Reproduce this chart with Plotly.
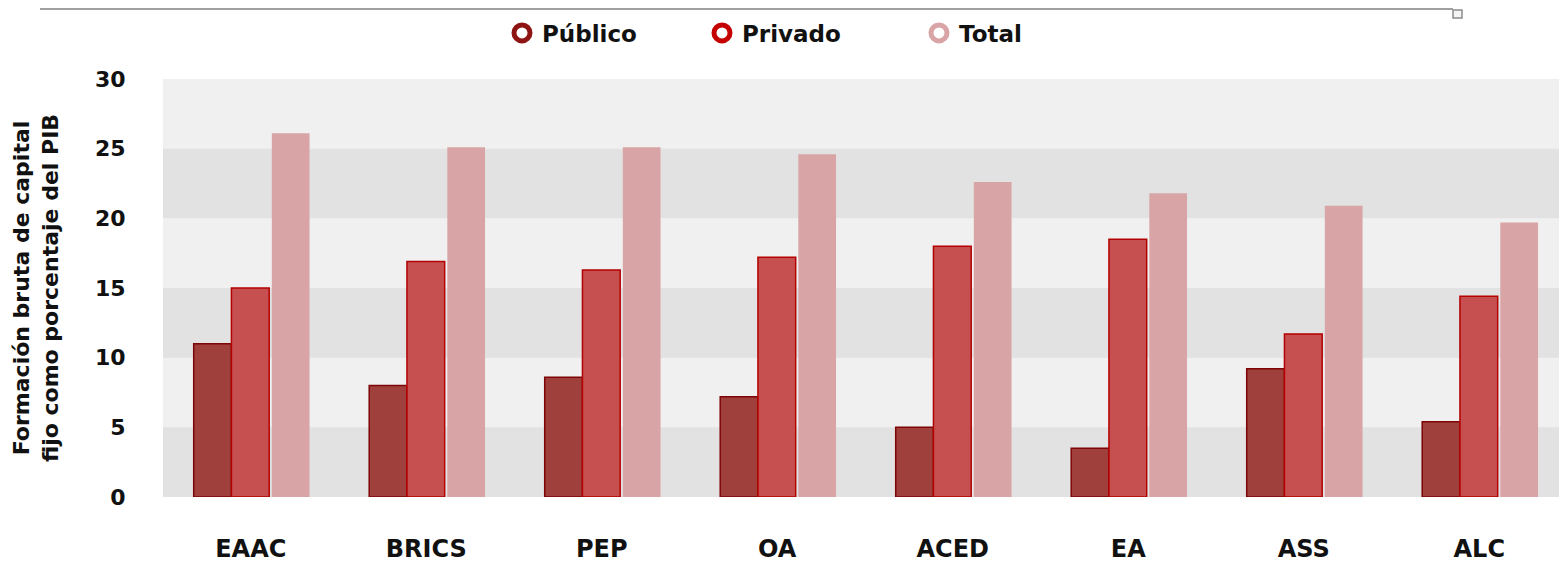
import plotly.graph_objects as go

# regions and values (% of GDP)
regiones = ['EAAC', 'BRICS', 'PEP', 'OA', 'ACED', 'EA', 'ASS', 'ALC']
publico = [11.0, 8.0, 8.6, 7.2, 5.0, 3.5, 9.2, 5.4]
privado = [15.0, 16.9, 16.3, 17.2, 18.0, 18.5, 11.7, 14.4]
total = [26.1, 25.1, 25.1, 24.6, 22.6, 21.8, 20.9, 19.7]
y_ticks = [0, 5, 10, 15, 20, 25, 30]

FONT = 'DejaVu Sans'
INK = '#111111'
OFF = 8  # page body margin around the plot div
W, H = 1567 - OFF, 563 - OFF
M_L, M_R, M_T = 163 - OFF, 0, 79 - OFF
plot_w = W - M_L - M_R
plot_h = 418
M_B = H - M_T - plot_h


def px_x(p):
    # page pixel -> paper x
    return (p - OFF - M_L) / plot_w


def px_y(p):
    # page pixel -> paper y
    return 1 + (M_T - (p - OFF)) / plot_h


series = [
    ('Público', publico, '#a0403d', '#7d0505', 1.5, -0.325, '#8e1414', 502),
    ('Privado', privado, '#c65050', '#b30000', 1.5, -0.11, '#c40000', 702),
    ('Total', total, '#d9a4a5', '#d9a4a5', 0, 0.12, '#d9a4a5', 919),
]

fig = go.Figure()
for name, vals, fill, edge, lw, off, ring, lx in series:
    fig.add_trace(go.Bar(
        x=regiones, y=vals, name=name, showlegend=False,
        marker=dict(color=fill, line=dict(color=edge, width=lw)),
        offset=off, width=0.215
    ))

# circle markers for the legend, one legend box each so they sit where the original has them
legend_boxes = {}
for i, (name, vals, fill, edge, lw, off, ring, lx) in enumerate(series):
    key = 'legend' if i == 0 else 'legend%d' % (i + 1)
    fig.add_trace(go.Scatter(
        x=[None], y=[None], mode='markers', name=name, legend=key,
        marker=dict(symbol='circle-open', size=20, color=ring,
                    line=dict(width=6, color=ring))
    ))
    legend_boxes[key] = dict(
        orientation='h', x=px_x(lx), xanchor='left',
        y=px_y(33), yanchor='middle', itemsizing='trace',
        font=dict(family=FONT, size=23, weight='bold', color=INK),
        bgcolor='rgba(0,0,0,0)'
    )

# alternating horizontal bands
shapes = []
for lo in [0, 10, 20]:
    shapes.append(dict(type='rect', xref='paper', yref='y', x0=0, x1=1,
                       y0=lo, y1=lo + 5, fillcolor='#e2e2e2',
                       line=dict(width=0), layer='below'))
# thin frame line and little handle at the top of the screenshot
shapes.append(dict(type='line', xref='paper', yref='paper',
                   x0=px_x(40), x1=px_x(1453), y0=px_y(OFF + 1), y1=px_y(OFF + 1),
                   line=dict(color='#a0a0a0', width=2)))
shapes.append(dict(type='rect', xref='paper', yref='paper',
                   x0=px_x(1453), x1=px_x(1462), y0=px_y(OFF + 10), y1=px_y(OFF + 2),
                   fillcolor='#f4f4f4', line=dict(color='#8c8c8c', width=1.5)))

fig.update_layout(
    width=W, height=H,
    margin=dict(l=M_L, r=M_R, t=M_T, b=M_B, autoexpand=False),
    paper_bgcolor='white',
    plot_bgcolor='#f0f0f0',
    barmode='overlay',
    font=dict(family=FONT, color=INK),
    shapes=shapes,
    showlegend=True,
    xaxis=dict(
        showgrid=False, zeroline=False, showline=False,
        ticks='outside', ticklen=30, tickcolor='rgba(0,0,0,0)',
        tickfont=dict(family=FONT, size=24, weight='bold', color=INK),
        range=[-0.5, 7.5], automargin=False
    ),
    yaxis=dict(
        range=[0, 30], tickvals=y_ticks,
        showgrid=False, zeroline=False, showline=False,
        ticks='outside', ticklen=32, tickcolor='rgba(0,0,0,0)',
        tickfont=dict(family=FONT, size=22, weight='bold', color=INK),
        automargin=False,
        title=dict(
            text='Formación bruta de capital<br>fijo como porcentaje del PIB',
            font=dict(family=FONT, size=22, weight='bold', color=INK),
            standoff=30
        )
    ),
    **legend_boxes
)

fig.write_html("out.html")
